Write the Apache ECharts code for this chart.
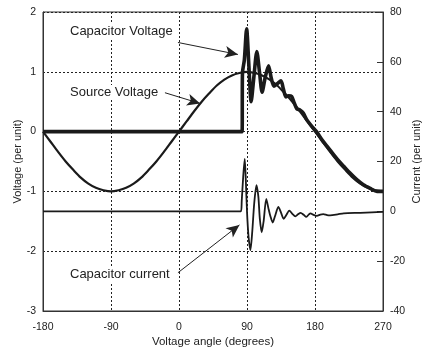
<!DOCTYPE html>
<html>
<head>
<meta charset="utf-8">
<script src="https://cdn.jsdelivr.net/npm/echarts@6/dist/echarts.min.js"></script>
<style>
  html, body { margin: 0; padding: 0; background: #fff; }
  #chart { width: 422px; height: 350px; }
</style>
</head>
<body>
<div id="chart"></div>
<script>
// angles in degrees
const xTicks = [-180, -90, 0, 90, 180, 270];

// source voltage (per unit), left axis
const sourceAngle = [-180, -170, -160, -150, -140, -130, -120, -110, -100, -90, -80, -70, -60, -50, -40, -30, -20, -10,
  0, 10, 20, 30, 40, 50, 60, 70, 80, 90, 100, 110, 120, 130, 140, 150, 160, 170, 180, 190, 200, 210, 220, 230, 240, 250, 260, 270];
const sourceVolt = [0, -0.17, -0.34, -0.5, -0.64, -0.77, -0.87, -0.94, -0.98, -1, -0.98, -0.94, -0.87, -0.77, -0.64, -0.5, -0.34, -0.17,
  0, 0.17, 0.34, 0.5, 0.64, 0.77, 0.87, 0.94, 0.98, 1, 0.98, 0.94, 0.87, 0.77, 0.64, 0.5, 0.34, 0.17, 0, -0.17, -0.34, -0.5, -0.64, -0.77, -0.87, -0.94, -0.98, -1];

// capacitor voltage (per unit), left axis
const capAngle = [-180, 83.5, 84, 86.5, 89.5, 92.5, 95.5, 99, 103, 106.5, 110, 114, 118.5, 122, 125.5, 130, 135, 138, 141.5,
  145, 149, 152.5, 156, 160, 164.5, 169, 175, 182, 190, 200, 210, 218, 226, 235, 244, 253, 262, 270];
const capVolt = [0, 0, 0.98, 1.2, 1.72, 1.1, 0.5, 0.9, 1.34, 1.0, 0.66, 0.9, 1.1, 0.9, 0.76, 0.8, 0.85, 0.72, 0.58,
  0.6, 0.59, 0.48, 0.38, 0.36, 0.31, 0.2, 0.1, 0.0, -0.15, -0.31, -0.47, -0.58, -0.69, -0.8, -0.89, -0.95, -1.0, -1.0];

// capacitor current (per unit), right axis
const curAngle = [-180, 82, 83, 85, 87, 88.5, 90, 92, 94.5, 97, 99.5, 102.5, 105, 107, 109.5, 112, 115.5, 118.5, 121, 124,
  127, 131.5, 135, 138.5, 142, 146, 150, 154, 157.5, 161, 165, 168.5, 172, 174, 178, 182.5, 187, 191, 196, 200, 210, 218, 240, 255, 270];
const curVal = [0, 0, 4, 14, 21, 12, 0, -10, -15.6, -8, 3, 10.5, 6, -3, -8.4, -4, 5, 1, -2, -4.5,
  -2, 1.8, -0.5, -3, -1.5, 0.3, -1, -2, -1.2, -0.6, -1.4, -2.2, -1.2, -0.8, -1.4, -1.8, -1.3, -1.1, -1.5, -1.6, -1.2, -0.8, -0.6, -0.4, -0.2];

const pairs = (xs, ys) => xs.map((x, i) => [x, ys[i]]);

const chartDom = document.getElementById('chart');
const myChart = echarts.init(chartDom, null, { renderer: 'canvas' });

const font = 'Liberation Sans, Arial, Helvetica, sans-serif';
const ink = '#1a1a1a';
const gridLine = { show: true, lineStyle: { color: '#222', width: 1, type: [2, 2] } };

const option = {
  animation: false,
  backgroundColor: '#fff',
  textStyle: { fontFamily: font },
  grid: {
    left: 43, right: 39, top: 12, bottom: 39,
    outerBoundsMode: 'none', containLabel: false,
    show: true, borderColor: '#333', borderWidth: 1, backgroundColor: 'transparent'
  },
  xAxis: {
    type: 'value', min: -180, max: 270, interval: 90,
    name: 'Voltage angle (degrees)', nameLocation: 'middle', nameGap: 25, nameMoveOverlap: false,
    nameTextStyle: { fontSize: 11.5, color: '#222', fontFamily: font },
    axisLine: { show: true, onZero: false, lineStyle: { color: '#333' } },
    axisTick: { show: false },
    axisLabel: { fontSize: 10.5, color: '#222', margin: 11, fontFamily: font },
    splitLine: gridLine
  },
  yAxis: [{
    type: 'value', min: -3, max: 2, interval: 1,
    name: 'Voltage (per unit)', nameLocation: 'middle', nameGap: 20, nameMoveOverlap: false,
    nameTextStyle: { fontSize: 11, color: '#222', fontFamily: font },
    axisLine: { show: true, onZero: false, lineStyle: { color: '#333' } },
    axisTick: { show: false },
    axisLabel: { fontSize: 10.5, color: '#222', margin: 7, fontFamily: font },
    splitLine: gridLine
  }, {
    type: 'value', min: -40, max: 80, interval: 20, position: 'right',
    name: 'Current (per unit)', nameLocation: 'middle', nameGap: 28, nameMoveOverlap: false,
    nameTextStyle: { fontSize: 11, color: '#222', fontFamily: font },
    axisLine: { show: true, onZero: false, lineStyle: { color: '#333' } },
    axisTick: { show: true, inside: true, length: 6, lineStyle: { color: '#333' } },
    axisLabel: { fontSize: 10.5, color: '#222', margin: 7, fontFamily: font },
    splitLine: { show: false }
  }],
  series: [{
    name: 'Source Voltage', type: 'line', yAxisIndex: 0, showSymbol: false, silent: true,
    data: pairs(sourceAngle, sourceVolt),
    smooth: 0.3,
    lineStyle: { color: ink, width: 2.2 },
    markLine: {
      silent: true, symbol: ['none', 'arrow'], symbolSize: [9, 13],
      label: { show: false },
      lineStyle: { color: '#222', width: 1, type: 'solid' },
      data: [
        [{ coord: [-1.4, 1.49] }, { coord: [78, 1.29] }],
        [{ coord: [-18.6, 0.65] }, { coord: [28, 0.47] }],
        [{ coord: [-1.4, -2.36] }, { coord: [80, -1.56] }]
      ]
    }
  }, {
    name: 'Capacitor Voltage', type: 'line', yAxisIndex: 0, showSymbol: false, silent: true,
    data: pairs(capAngle, capVolt),
    smooth: 0.25,
    lineStyle: { color: ink, width: 3.6 }
  }, {
    name: 'Capacitor current', type: 'line', yAxisIndex: 1, showSymbol: false, silent: true,
    data: pairs(curAngle, curVal),
    smooth: 0.25,
    lineStyle: { color: ink, width: 1.8 }
  }],
  graphic: [
    { type: 'text', left: 68, top: 24, z: 100, style: { text: 'Capacitor Voltage', font: '13px ' + font, fill: '#222', backgroundColor: '#fff', padding: [1, 2] } },
    { type: 'text', left: 68, top: 85, z: 100, style: { text: 'Source Voltage', font: '13px ' + font, fill: '#222', backgroundColor: '#fff', padding: [1, 2] } },
    { type: 'text', left: 68, top: 267, z: 100, style: { text: 'Capacitor current', font: '13px ' + font, fill: '#222', backgroundColor: '#fff', padding: [1, 2] } }
  ]
};

myChart.setOption(option, true);

window.addEventListener('resize', () => {
  myChart.resize();
});
</script>
</body>
</html>
